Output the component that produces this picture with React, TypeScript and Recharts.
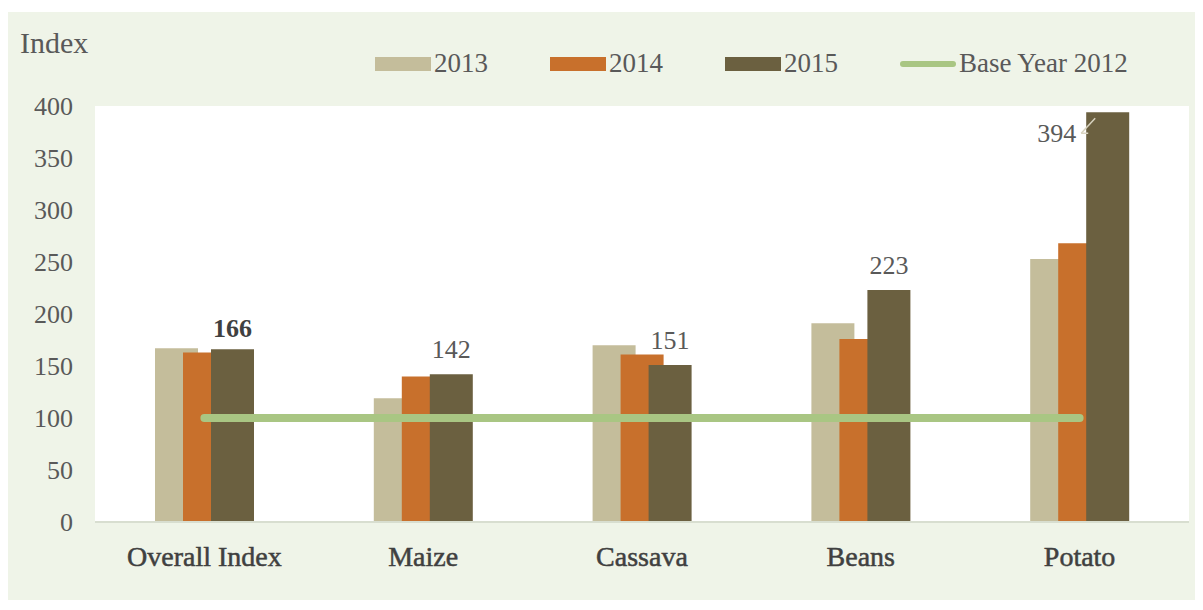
import React from 'react';
import { ComposedChart, Bar, Line, XAxis, YAxis, CartesianGrid, LabelList } from 'recharts';

const categories = ['Overall Index', 'Maize', 'Cassava', 'Beans', 'Potato'];
const values2013 = [167, 119, 170, 191, 253];
const values2014 = [163, 140, 161, 176, 268];
const values2015 = [166, 142, 151, 223, 394];
const baseYear2012 = [100, 100, 100, 100, 100];
const yTicks = [0, 50, 100, 150, 200, 250, 300, 350, 400];

const chartData = categories.map((name, i) => ({
  name,
  y2013: values2013[i],
  y2014: values2014[i],
  y2015: values2015[i],
  base: baseYear2012[i],
}));

const FONT = '"Liberation Serif", "Times New Roman", serif';
const TEXT = '#595959';

const colors = {
  y2013: '#c4bd9b',
  y2014: '#c8702c',
  y2015: '#6b6040',
  base: '#a9c683',
};

const legendItems = [
  { label: '2013', color: colors.y2013, line: false },
  { label: '2014', color: colors.y2014, line: false },
  { label: '2015', color: colors.y2015, line: false },
  { label: 'Base Year 2012', color: colors.base, line: true },
];

const ChartLegend = () => (
  <div
    style={{
      position: 'absolute',
      top: 36,
      left: 367,
      display: 'flex',
      fontFamily: FONT,
      fontSize: 27,
      color: TEXT,
    }}
  >
    {legendItems.map((it) => (
      <div key={it.label} style={{ width: it.line ? 'auto' : 175, display: 'flex', alignItems: 'center', flexShrink: 0 }}>
        <span
          style={{
            display: 'inline-block',
            flexShrink: 0,
            width: 56,
            height: it.line ? 6 : 14,
            borderRadius: it.line ? 3 : 0,
            background: it.color,
            marginRight: 3,
          }}
        />
        <span style={{ whiteSpace: 'nowrap' }}>{it.label}</span>
      </div>
    ))}
  </div>
);

// labels drawn above 2015 bars; the potato one sits to the left of the bar top
const Label2015 = (props: any) => {
  const { x, y, width, value, index } = props;
  if (index === 4) {
    return (
      <g>
        <text x={x - 10} y={y + 30} textAnchor="end" fontFamily={FONT} fontSize={26} fill={TEXT}>
          {value}
        </text>
        <line x1={x - 5} y1={y + 21} x2={x + 9} y2={y + 6} stroke="#d8d3c0" strokeWidth={1.5} />
        <line x1={x - 5} y1={y + 21} x2={x + 2} y2={y + 21} stroke="#d8d3c0" strokeWidth={1.5} />
      </g>
    );
  }
  const bold = index === 0;
  return (
    <text
      x={x + width / 2}
      y={y - (bold ? 12 : 16)}
      textAnchor="middle"
      fontFamily={FONT}
      fontSize={26}
      fontWeight={bold ? 'bold' : 'normal'}
      fill={bold ? '#404040' : TEXT}
    >
      {value}
    </text>
  );
};

export default function App() {
  return (
    <div style={{ marginTop: 4, width: 1187, height: 588, background: '#eff4e8', position: 'relative' }}>
      <div style={{ position: 'absolute', left: 12, top: 14, fontFamily: FONT, fontSize: 30, color: TEXT }}>
        Index
      </div>
      <ChartLegend />
      <ComposedChart
        width={1187}
        height={588}
        data={chartData}
        margin={{ top: 94, right: 6, left: 0, bottom: 0 }}
        barGap={-15}
      >
        <CartesianGrid fill="#ffffff" horizontal={false} vertical={false} />
        <XAxis
          dataKey="name"
          height={78}
          tickLine={false}
          tickSize={0}
          tickMargin={24}
          axisLine={{ stroke: '#d8ded0', strokeWidth: 2 }}
          tick={{ fontFamily: FONT, fontSize: 28, fill: '#404040', stroke: '#404040', strokeWidth: 0.5 }}
        />
        <YAxis
          width={87}
          domain={[0, 400]}
          ticks={yTicks}
          interval={0}
          tickLine={false}
          tickSize={0}
          tickMargin={22}
          axisLine={false}
          tick={{ fontFamily: FONT, fontSize: 26, fill: TEXT }}
        />
        <Bar dataKey="y2013" name="2013" fill={colors.y2013} barSize={43} isAnimationActive={false} />
        <Bar dataKey="y2014" name="2014" fill={colors.y2014} barSize={43} isAnimationActive={false} />
        <Bar dataKey="y2015" name="2015" fill={colors.y2015} barSize={43} isAnimationActive={false}>
          <LabelList dataKey="y2015" content={<Label2015 />} />
        </Bar>
        <Line
          dataKey="base"
          name="Base Year 2012"
          stroke={colors.base}
          strokeWidth={8}
          strokeLinecap="round"
          dot={false}
          activeDot={false}
          isAnimationActive={false}
        />
      </ComposedChart>
    </div>
  );
}
